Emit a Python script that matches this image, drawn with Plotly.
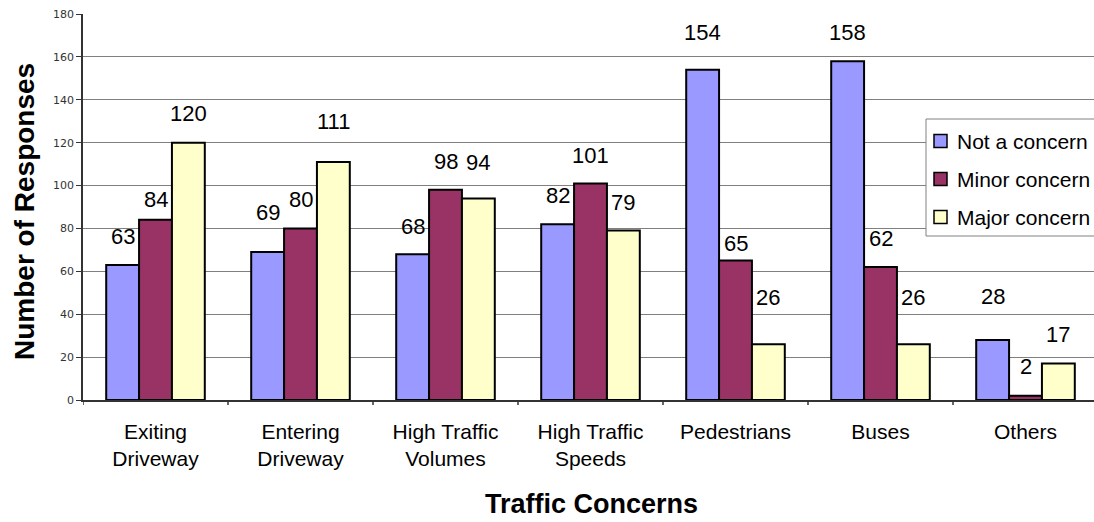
import plotly.graph_objects as go

# ---- data -------------------------------------------------------------
categories = [
    "Exiting<br>Driveway", "Entering<br>Driveway", "High Traffic<br>Volumes",
    "High Traffic<br>Speeds", "Pedestrians", "Buses", "Others",
]
series_names = ["Not a concern", "Minor concern", "Major concern"]
not_a_concern = [63, 69, 68, 82, 154, 158, 28]
minor_concern = [84, 80, 98, 101, 65, 62, 2]
major_concern = [120, 111, 94, 79, 26, 26, 17]
y_ticks = [0, 20, 40, 60, 80, 100, 120, 140, 160, 180]

# ---- styling ----------------------------------------------------------
colors = ["#9999FF", "#993366", "#FFFFCC"]
FONT = "Arial, 'Liberation Sans', sans-serif"
W, H = 1094, 522
L, R, T, B = 83, 0, 14, 122
BARGAP = 0.32
CAT_PX = 145.0                      # pixel width of one category slot
# vertical lift (px) of each value label above its bar top, per series
label_lift = [
    [28, 40, 28, 29, 37, 29, 43],
    [20, 29, 28, 28, 17, 29, 29],
    [29, 40, 36, 28, 47, 47, 29],
]

series_values = [not_a_concern, minor_concern, major_concern]

fig = go.Figure()
for name, vals, col in zip(series_names, series_values, colors):
    fig.add_trace(go.Bar(
        x=list(range(len(categories))), y=vals, name=name,
        marker=dict(color=col, line=dict(color="black", width=2)),
        showlegend=False, hoverinfo="x+y+name",
    ))

# value labels above the bars
bar_w = (1 - BARGAP) / len(series_names)
annotations = []
for s, vals in enumerate(series_values):
    for j, v in enumerate(vals):
        annotations.append(dict(
            x=j + (s - 1) * bar_w, y=v, xref="x", yref="y",
            text=str(v), showarrow=False, yanchor="middle", xanchor="center",
            yshift=label_lift[s][j],
            font=dict(family=FONT, size=22, color="black"),
        ))

plot_w = W - L - R
plot_h = H - T - B


def px_x(px):
    return (px - L) / plot_w


def px_y(py):
    return (H - B - py) / plot_h


# axis titles
annotations.append(dict(
    x=0, y=0.5, xref="paper", yref="paper", xshift=24 - L, yshift=-5,
    text="<b>Number of Responses</b>", textangle=-90, showarrow=False,
    xanchor="center", yanchor="middle",
    font=dict(family=FONT, size=28, color="black"),
))
annotations.append(dict(
    x=0.5, y=0, xref="paper", yref="paper", xshift=3, yshift=-104,
    text="<b>Traffic Concerns</b>", showarrow=False,
    xanchor="center", yanchor="middle",
    font=dict(family=FONT, size=27, color="black"),
))

# legend box drawn with shapes so it can sit flush against the right edge
shapes = [dict(
    type="rect", xref="paper", yref="paper",
    x0=px_x(926), x1=px_x(W + 4), y0=px_y(236), y1=px_y(119),
    fillcolor="white", line=dict(color="#808080", width=1), layer="above",
)]
for k, (name, col) in enumerate(zip(series_names, colors)):
    cy = 141 + 38 * k
    shapes.append(dict(
        type="rect", xref="paper", yref="paper",
        x0=px_x(934), x1=px_x(947), y0=px_y(cy + 6.5), y1=px_y(cy - 6.5),
        fillcolor=col, line=dict(color="black", width=1.5), layer="above",
    ))
    annotations.append(dict(
        x=px_x(955), y=px_y(cy), xref="paper", yref="paper",
        text=name, showarrow=False, xanchor="left", yanchor="middle",
        font=dict(family=FONT, size=21, color="black"),
    ))

# category boundary ticks below the axis
for j in range(len(categories) + 1):
    shapes.append(dict(
        type="line", xref="x", yref="paper", x0=j - 0.5, x1=j - 0.5,
        y0=0, y1=-5 / plot_h, line=dict(color="#333333", width=1.5),
    ))

fig.update_layout(
    width=W, height=H,
    margin=dict(l=L, r=R, t=T, b=B, pad=0),
    paper_bgcolor="white", plot_bgcolor="white",
    barmode="group", bargap=BARGAP, bargroupgap=0,
    annotations=annotations, shapes=shapes,
    font=dict(family=FONT, color="black"),
)
fig.update_xaxes(
    type="linear", tickmode="array",
    tickvals=list(range(len(categories))), ticktext=categories,
    range=[-0.5, len(categories) - 0.5 - (L + len(categories) * CAT_PX - W) / CAT_PX],
    showgrid=False, zeroline=False,
    showline=True, linecolor="#333333", linewidth=1.5,
    ticks="", ticklabelstandoff=12,
    tickfont=dict(family=FONT, size=21, color="black"),
)
fig.update_yaxes(
    range=[0, 180], tickmode="array", tickvals=y_ticks,
    showgrid=True, gridcolor="#808080", gridwidth=1,
    zeroline=False, showline=True, linecolor="#333333", linewidth=1.5,
    ticks="outside", ticklen=5, tickcolor="#333333", tickwidth=1,
    tickfont=dict(family="'DejaVu Sans', Verdana, sans-serif", size=11, color="#333333"),
)

fig.write_html("out.html")
